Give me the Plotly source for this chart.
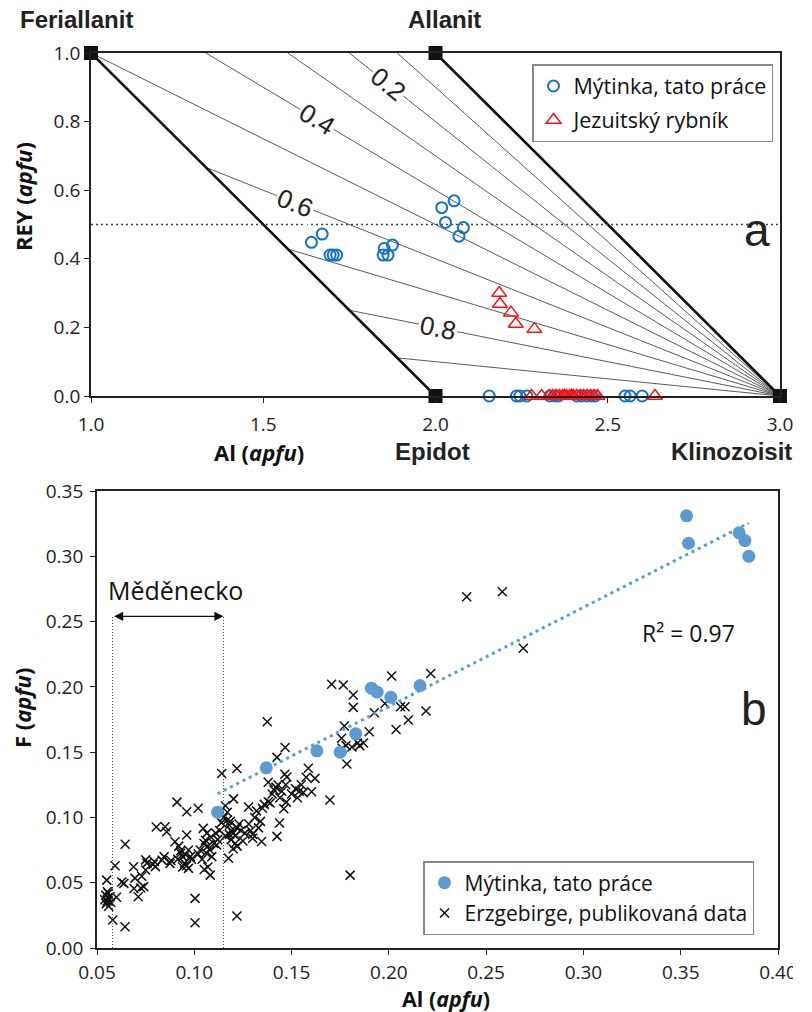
import math
import numpy as np
import plotly.graph_objects as go

W, H = 812, 1012

# ---------------- panel a data ----------------
end_names = ["Feriallanit", "Allanit", "Epidot", "Klinozoisit"]
end_al = [1.0, 2.0, 2.0, 3.0]
end_rey = [1.0, 1.0, 0.0, 0.0]

ratio_levels = [0.1, 0.2, 0.3, 0.4, 0.5, 0.6, 0.7, 0.8, 0.9]
label_levels = [0.2, 0.4, 0.6, 0.8]
label_al = [1.863, 1.655, 1.592, 2.008]
ref_rey = 0.5

myt_al = [1.640, 1.671, 1.694, 1.703, 1.713, 1.851, 1.848, 1.862, 1.875,
          2.018, 2.054, 2.029, 2.081, 2.068,
          2.156, 2.235, 2.245, 2.265, 2.332, 2.347, 2.357, 2.410, 2.424,
          2.439, 2.453, 2.463, 2.550, 2.565, 2.600]
myt_rey = [0.448, 0.472, 0.411, 0.411, 0.411, 0.430, 0.411, 0.411, 0.440,
           0.549, 0.569, 0.506, 0.491, 0.466,
           0, 0, 0, 0, 0, 0, 0, 0, 0, 0, 0, 0, 0, 0, 0]

jez_al = [2.185, 2.187, 2.219, 2.233, 2.287,
          2.279, 2.308, 2.330, 2.340, 2.350, 2.360, 2.370, 2.375, 2.380,
          2.390, 2.395, 2.400, 2.410, 2.420, 2.430, 2.440, 2.450, 2.460,
          2.470, 2.637]
jez_rey = [0.300, 0.268, 0.243, 0.210, 0.195,
           0, 0, 0, 0, 0, 0, 0, 0, 0, 0, 0, 0, 0, 0, 0, 0, 0, 0, 0, 0]

a_xticks = [1.0, 1.5, 2.0, 2.5, 3.0]
a_xticktext = ["1.0", "1.5", "2.0", "2.5", "3.0"]
a_yticks = [0.0, 0.2, 0.4, 0.6, 0.8, 1.0]
a_yticktext = ["0.0", "0.2", "0.4", "0.6", "0.8", "1.0"]

# ---------------- panel b data ----------------
myt_b_al = [0.112, 0.137, 0.163, 0.175, 0.183, 0.191, 0.194, 0.201, 0.216,
            0.353, 0.354, 0.380, 0.383, 0.385]
myt_b_f = [0.104, 0.138, 0.151, 0.150, 0.164, 0.199, 0.196, 0.192, 0.201,
           0.331, 0.310, 0.318, 0.312, 0.300]

erz_al = [
    0.0550, 0.0553, 0.0540, 0.0548, 0.0556, 0.0560, 0.0545, 0.0570, 0.0567, 0.0558,
    0.0552, 0.0581, 0.0593, 0.0600, 0.0644, 0.0645, 0.0627, 0.0638, 0.0688, 0.0695,
    0.0690, 0.0712, 0.0740, 0.0725, 0.0730,
    0.0750, 0.0757, 0.0750, 0.0788, 0.0795, 0.0800, 0.0805, 0.0850, 0.0858, 0.0834,
    0.0845, 0.0875, 0.0880,
    0.0911, 0.0901, 0.0920, 0.0930, 0.0940, 0.0950, 0.0915, 0.0940, 0.0960, 0.0970,
    0.0961, 0.0961, 0.0980, 0.0970, 0.0930, 0.0955, 0.0985,
    0.1020, 0.1004, 0.1004, 0.1046, 0.1057, 0.1050, 0.1070, 0.1080, 0.1060, 0.1090,
    0.1040, 0.1051, 0.1070, 0.1082, 0.1100, 0.1115, 0.1120, 0.1020, 0.1030, 0.1110,
    0.1130, 0.1141, 0.1085, 0.1065,
    0.1219, 0.1202, 0.1219, 0.1176, 0.1150, 0.1170, 0.1180, 0.1190, 0.1200, 0.1210,
    0.1220, 0.1230, 0.1180, 0.1160, 0.1190, 0.1210, 0.1200, 0.1220, 0.1240, 0.1250,
    0.1170, 0.1160, 0.1260, 0.1140, 0.1185,
    0.1279, 0.1280, 0.1290, 0.1300, 0.1310, 0.1320, 0.1330, 0.1340, 0.1346, 0.1300,
    0.1360, 0.1380, 0.1375, 0.1425, 0.1467, 0.1425, 0.1438, 0.1460, 0.1473, 0.1476,
    0.1400, 0.1410, 0.1420, 0.1430, 0.1440, 0.1450, 0.1470, 0.1380, 0.1390, 0.1465,
    0.1350,
    0.1500, 0.1520, 0.1530, 0.1550, 0.1540, 0.1586, 0.1620, 0.1603, 0.1575, 0.1697,
    0.1784, 0.1801, 0.1706, 0.1766, 0.1817, 0.1817, 0.1771, 0.1757, 0.1780, 0.1810,
    0.1840, 0.1850, 0.1899, 0.1925, 0.1870, 0.1760, 0.1560,
    0.1980, 0.2014, 0.2037, 0.2060, 0.2083, 0.2100, 0.2191, 0.2215, 0.2400, 0.2583,
    0.2691,
]
erz_f = [
    0.0520, 0.0431, 0.0370, 0.0340, 0.0385, 0.0320, 0.0405, 0.0350, 0.0393, 0.0420,
    0.0360, 0.0214, 0.0630, 0.0388, 0.0163, 0.0795, 0.0505, 0.0495, 0.0622, 0.0535,
    0.0455, 0.0393, 0.0470, 0.0460, 0.0550,
    0.0675, 0.0650, 0.0597, 0.0640, 0.0662, 0.0623, 0.0926, 0.0929, 0.0890, 0.0673,
    0.0700, 0.0648, 0.0670,
    0.1117, 0.0814, 0.0780, 0.0725, 0.0700, 0.0650, 0.0680, 0.0620, 0.0630, 0.0750,
    0.1044, 0.0865, 0.0700, 0.0610, 0.0745, 0.0715, 0.0680,
    0.1070, 0.0380, 0.0194, 0.0916, 0.0825, 0.0800, 0.0780, 0.0750, 0.0730, 0.0700,
    0.0680, 0.0601, 0.0620, 0.0558, 0.0800, 0.0789, 0.0830, 0.0720, 0.0750, 0.0880,
    0.0900, 0.1337, 0.0850, 0.0880,
    0.1375, 0.1142, 0.0245, 0.0687, 0.1000, 0.0980, 0.0940, 0.0900, 0.0880, 0.0860,
    0.0920, 0.0950, 0.0870, 0.0860, 0.0830, 0.0800, 0.0760, 0.0780, 0.0900, 0.0820,
    0.1040, 0.1090, 0.0880, 0.0960, 0.0970,
    0.1080, 0.0950, 0.0900, 0.0870, 0.1000, 0.1050, 0.0920, 0.0970, 0.0816, 0.0840,
    0.1100, 0.1120, 0.1733, 0.1460, 0.1536, 0.0855, 0.0957, 0.1066, 0.1117, 0.1310,
    0.1180, 0.1210, 0.1230, 0.1250, 0.1150, 0.1200, 0.1250, 0.1270, 0.1110, 0.1330,
    0.1070,
    0.1180, 0.1220, 0.1150, 0.1250, 0.1200, 0.1376, 0.1299, 0.1197, 0.1307, 0.1133,
    0.1409, 0.0558, 0.2020, 0.2014, 0.1937, 0.1843, 0.1700, 0.1606, 0.1550, 0.1540,
    0.1570, 0.1550, 0.1656, 0.1802, 0.1570, 0.1530, 0.1190,
    0.1873, 0.2083, 0.1674, 0.1848, 0.1848, 0.1746, 0.1815, 0.2103, 0.2690, 0.2728,
    0.2295,
]

med_range = [0.058, 0.115]
med_top = 0.254
r2_text = "R² = 0.97"

b_xticks = [0.05, 0.10, 0.15, 0.20, 0.25, 0.30, 0.35, 0.40]
b_xticktext = ["0.05", "0.10", "0.15", "0.20", "0.25", "0.30", "0.35", "0.40"]
b_yticks = [0.00, 0.05, 0.10, 0.15, 0.20, 0.25, 0.30, 0.35]
b_yticktext = ["0.00", "0.05", "0.10", "0.15", "0.20", "0.25", "0.30", "0.35"]

# ---------------- layout geometry (pixels) ----------------
AX0, AX1, AY0, AY1 = 91, 780, 53, 396
BX0, BX1, BY0, BY1 = 97, 778, 491, 948


def px(x):
    return x / W


def py(y):
    return 1 - y / H


SANS = "Open Sans"
ARIAL = "Liberation Sans"
BLUE_A = "#1672C4"
BLUE_B = "#5B9BD5"

fig = go.Figure()

# fan lines of constant Fe3+/(Fe3+ + Fe2+)
fx, fy = [], []
starts = {}
for r in ratio_levels:
    if r <= 0.5:
        a0, y0 = 3 - 1 / (1 - r), 1.0
    else:
        a0 = 3 - 1 / r
        y0 = 2 - a0
    starts[r] = (a0, y0)
    fx += [a0, 3.0, None]
    fy += [y0, 0.0, None]
fig.add_trace(go.Scatter(x=fx, y=fy, mode="lines", line=dict(color="#5a5a5a", width=1),
                         showlegend=False, hoverinfo="skip", xaxis="x", yaxis="y"))

# thick boundary lines
fig.add_trace(go.Scatter(x=[end_al[0], end_al[2], None, end_al[1], end_al[3]],
                         y=[end_rey[0], end_rey[2], None, end_rey[1], end_rey[3]],
                         mode="lines", line=dict(color="#111", width=2.6),
                         showlegend=False, hoverinfo="skip", xaxis="x", yaxis="y"))

# dotted reference line
fig.add_trace(go.Scatter(x=[1.0, 3.0], y=[ref_rey, ref_rey], mode="lines",
                         line=dict(color="#444", width=1.6, dash="2px,3px"),
                         showlegend=False, hoverinfo="skip", xaxis="x", yaxis="y"))

fig.add_trace(go.Scatter(x=myt_al, y=myt_rey, mode="markers", name="Mýtinka, tato práce",
                         marker=dict(symbol="circle-open", size=11, color=BLUE_A,
                                     line=dict(width=2, color=BLUE_A)),
                         cliponaxis=False, xaxis="x", yaxis="y", legend="legend",
                         legendgroup="a1", legendrank=1))
fig.add_trace(go.Scatter(x=jez_al, y=jez_rey, mode="markers", name="Jezuitský rybník",
                         marker=dict(symbol="triangle-up-open", size=13, color="#FF1010",
                                     line=dict(width=1.5, color="#FF1010")),
                         cliponaxis=False, xaxis="x", yaxis="y", legend="legend",
                         legendgroup="a2", legendrank=2))

fig.add_trace(go.Scatter(x=end_al, y=end_rey, mode="markers",
                         marker=dict(symbol="square", size=14, color="#111"),
                         cliponaxis=False, showlegend=False, hoverinfo="skip", xaxis="x", yaxis="y"))

# ---------------- panel b ----------------
fig.add_trace(go.Scatter(x=erz_al, y=erz_f, mode="markers", name="Erzgebirge, publikovaná data",
                         marker=dict(symbol="x-thin", size=9, color="#111",
                                     line=dict(width=1.5, color="#111")),
                         xaxis="x2", yaxis="y2", legend="legend2", legendgroup="b2", legendrank=2))

k, q = np.polyfit(myt_b_al, myt_b_f, 1)
tx = np.array([min(myt_b_al), max(myt_b_al)])
fig.add_trace(go.Scatter(x=tx, y=k * tx + q, mode="lines",
                         line=dict(color=BLUE_B, width=3, dash="3px,4px"),
                         showlegend=False, hoverinfo="skip", xaxis="x2", yaxis="y2"))

fig.add_trace(go.Scatter(x=myt_b_al, y=myt_b_f, mode="markers", name="Mýtinka, tato práce",
                         marker=dict(symbol="circle", size=13, color=BLUE_B),
                         xaxis="x2", yaxis="y2", legend="legend2", legendgroup="b1", legendrank=1))

shapes = []
for v in med_range:
    shapes.append(dict(type="line", xref="x2", yref="y2", x0=v, x1=v, y0=0, y1=med_top,
                       line=dict(color="#444", width=1, dash="1px,2px")))
shapes.append(dict(type="rect", xref="paper", yref="paper", x0=px(793), x1=1.0, y0=0, y1=1,
                   fillcolor="white", line=dict(width=0), layer="above"))

annotations = []


def note(xx, yy, text, size, family=SANS, color="#111", angle=0):
    return dict(x=px(xx), y=py(yy), xref="paper", yref="paper", text=text, showarrow=False,
                xanchor="center", yanchor="middle", textangle=angle,
                font=dict(family=family, size=size, color=color))


# ratio labels on fan lines
ppa = (AX1 - AX0) / 2.0
ppr = (AY1 - AY0) / 1.0
for r, a in zip(label_levels, label_al):
    a0, y0 = starts[r]
    ang = math.degrees(math.atan2(y0 * ppr, (3 - a0) * ppa))
    annotations.append(dict(x=a, y=(1 - r) * (3 - a), xref="x", yref="y", text=f"{r:.1f}",
                            showarrow=False, textangle=ang, bgcolor="white", borderpad=1,
                            xanchor="center", yanchor="middle",
                            font=dict(family=ARIAL, size=26, color="#222")))

# end-member names
name_pos = [(76, 19), (444, 19), (432, 451), (731, 451)]
for nm, (xx, yy) in zip(end_names, name_pos):
    annotations.append(note(xx, yy, f"<b>{nm}</b>", 24, family=ARIAL, color="#222"))

annotations += [
    note(259, 452, "<b>Al (<i>apfu</i>)</b>", 22),
    note(23, 197, "<b>REY (<i>apfu</i>)</b>", 22, angle=-90),
    note(22, 708, "<b>F (<i>apfu</i>)</b>", 22, angle=-90),
    note(446, 998, "<b>Al (<i>apfu</i>)</b>", 21.5),
    note(757, 230, "a", 46, family=ARIAL, color="#222"),
    note(754, 709, "b", 46, family=ARIAL, color="#222"),
    note(175, 590, "Měděnecko", 25),
    note(688, 633, r2_text, 23),
    dict(x=med_range[1], y=med_top, ax=med_range[0], ay=med_top, xref="x2", yref="y2",
         axref="x2", ayref="y2", text="", showarrow=True, arrowhead=2, startarrowhead=2,
         arrowside="end+start", arrowsize=1.3, startarrowsize=1.3, arrowwidth=1.4,
         arrowcolor="#111", standoff=0, startstandoff=0),
]

axis_common = dict(showgrid=False, zeroline=False, showline=True, mirror=True, automargin=False,
                   linecolor="#222", linewidth=1.8, ticks="outside", ticklen=5,
                   tickcolor="#222", tickwidth=1.2,
                   tickfont=dict(family=SANS, size=19, color="#222"))

fig.update_layout(
    width=W, height=H, margin=dict(l=0, r=0, t=0, b=0, autoexpand=False),
    paper_bgcolor="white", plot_bgcolor="white",
    xaxis=dict(domain=[px(AX0), px(AX1)], range=[1, 3], tickvals=a_xticks, ticktext=a_xticktext,
               anchor="y", ticklabelstandoff=5, **axis_common),
    yaxis=dict(domain=[py(AY1), py(AY0)], range=[0, 1], tickvals=a_yticks, ticktext=a_yticktext,
               anchor="x", **axis_common),
    xaxis2=dict(domain=[px(BX0), px(BX1)], range=[0.05, 0.40], tickvals=b_xticks, ticktext=b_xticktext,
                anchor="y2", ticklabelstandoff=1, **axis_common),
    yaxis2=dict(domain=[py(BY1), py(BY0)], range=[0, 0.35], tickvals=b_yticks, ticktext=b_yticktext,
                anchor="x2", ticklabelstandoff=3, **axis_common),
    legend=dict(x=px(532), y=py(64), xanchor="left", yanchor="top", bgcolor="white",
                bordercolor="#888", borderwidth=1.5, traceorder="grouped", tracegroupgap=3,
                font=dict(family=SANS, size=21.5, color="#111")),
    legend2=dict(x=px(423), y=py(861), xanchor="left", yanchor="top", bgcolor="white",
                 bordercolor="#888", borderwidth=1.5, traceorder="grouped", tracegroupgap=0,
                 font=dict(family=SANS, size=21, color="#111")),
    shapes=shapes, annotations=annotations, showlegend=True,
)

fig.write_html("out.html", config={"displayModeBar": False},
               post_script="document.body.style.margin='0';document.documentElement.style.overflow='hidden';")
